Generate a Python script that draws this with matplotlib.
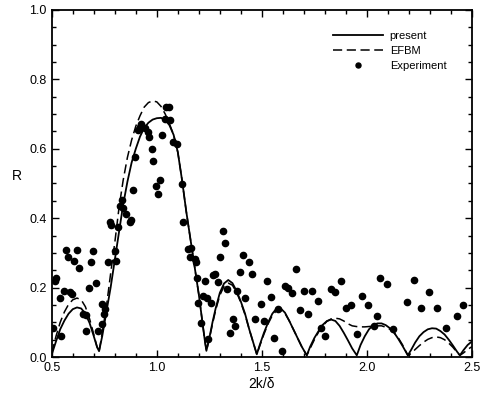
import numpy as np
import matplotlib
matplotlib.use("Agg")
import matplotlib.pyplot as plt

# ------------------ DATOS ------------------
# Curva "present" (línea continua)
present_x = [0.50, 0.52, 0.54, 0.56, 0.58, 0.60, 0.62, 0.64, 0.66, 0.68, 0.70, 0.715, 0.725,
             0.74, 0.76, 0.78, 0.80, 0.82, 0.84, 0.86, 0.88, 0.90, 0.92, 0.94, 0.96, 0.98,
             1.00, 1.02, 1.04, 1.06, 1.08, 1.10, 1.12, 1.14, 1.16, 1.18, 1.20, 1.215, 1.228,
             1.236, 1.25, 1.265, 1.28, 1.30, 1.32, 1.34, 1.36, 1.38, 1.40, 1.42, 1.44, 1.46,
             1.476, 1.49, 1.51, 1.53, 1.55, 1.57, 1.59, 1.61, 1.63, 1.65, 1.67, 1.69, 1.714,
             1.73, 1.75, 1.77, 1.79, 1.81, 1.83, 1.85, 1.87, 1.89, 1.91, 1.93, 1.952,
             1.97, 1.99, 2.01, 2.03, 2.05, 2.07, 2.09, 2.11, 2.13, 2.15, 2.17, 2.195,
             2.21, 2.23, 2.25, 2.27, 2.29, 2.31, 2.33, 2.35, 2.37, 2.39, 2.41, 2.43, 2.443,
             2.46, 2.48, 2.50]
present_y = [0.008, 0.045, 0.080, 0.105, 0.125, 0.138, 0.143, 0.140, 0.125, 0.098, 0.060, 0.030, 0.017,
             0.060, 0.130, 0.200, 0.280, 0.360, 0.440, 0.505, 0.560, 0.600, 0.635, 0.660, 0.675, 0.684,
             0.688, 0.689, 0.683, 0.668, 0.640, 0.590, 0.510, 0.420, 0.340, 0.260, 0.180, 0.110, 0.050,
             0.018, 0.055, 0.100, 0.140, 0.185, 0.212, 0.222, 0.213, 0.190, 0.160, 0.125, 0.080, 0.040,
             0.008, 0.035, 0.070, 0.100, 0.125, 0.140, 0.140, 0.128, 0.105, 0.080, 0.055, 0.030, 0.005,
             0.030, 0.055, 0.075, 0.093, 0.104, 0.108, 0.104, 0.090, 0.070, 0.048, 0.025, 0.005,
             0.035, 0.060, 0.080, 0.092, 0.097, 0.097, 0.092, 0.083, 0.070, 0.052, 0.032, 0.005,
             0.020, 0.042, 0.060, 0.072, 0.080, 0.083, 0.082, 0.075, 0.065, 0.050, 0.033, 0.015, 0.005,
             0.020, 0.035, 0.045]

# Curva "EFBM" (línea discontinua)
efbm_x = [0.50, 0.52, 0.54, 0.56, 0.58, 0.60, 0.62, 0.64, 0.66, 0.68, 0.70, 0.715, 0.725,
          0.74, 0.76, 0.78, 0.80, 0.82, 0.84, 0.86, 0.88, 0.90, 0.92, 0.94, 0.96, 0.98,
          1.00, 1.02, 1.04, 1.06, 1.08, 1.10, 1.12, 1.14, 1.16, 1.18, 1.20, 1.215, 1.228,
          1.236, 1.25, 1.265, 1.28, 1.30, 1.32, 1.34, 1.36, 1.38, 1.40, 1.42, 1.44, 1.46,
          1.476, 1.49, 1.51, 1.53, 1.55, 1.57, 1.59, 1.61, 1.63, 1.65, 1.67, 1.69, 1.714,
          1.73, 1.75, 1.77, 1.79, 1.81, 1.83, 1.85, 1.87, 1.89, 1.91, 1.93, 1.95,
          1.97, 1.99, 2.01, 2.04, 2.07, 2.09, 2.11, 2.13, 2.15, 2.17, 2.195,
          2.21, 2.23, 2.25, 2.27, 2.29, 2.31, 2.33, 2.35, 2.37, 2.39, 2.41, 2.43, 2.443,
          2.46, 2.48, 2.50]
efbm_y = [0.012, 0.060, 0.100, 0.130, 0.152, 0.165, 0.170, 0.165, 0.145, 0.110, 0.065, 0.030, 0.015,
          0.070, 0.145, 0.240, 0.330, 0.430, 0.510, 0.575, 0.625, 0.665, 0.695, 0.720, 0.733, 0.738,
          0.735, 0.722, 0.700, 0.672, 0.640, 0.590, 0.510, 0.420, 0.340, 0.260, 0.180, 0.110, 0.050,
          0.018, 0.052, 0.095, 0.135, 0.178, 0.204, 0.213, 0.207, 0.186, 0.157, 0.122, 0.080, 0.040,
          0.008, 0.032, 0.066, 0.096, 0.120, 0.134, 0.136, 0.126, 0.105, 0.080, 0.055, 0.030, 0.005,
          0.025, 0.050, 0.072, 0.090, 0.103, 0.110, 0.112, 0.110, 0.104, 0.096, 0.090, 0.088,
          0.087, 0.087, 0.088, 0.090, 0.090, 0.086, 0.080, 0.070, 0.055, 0.035, 0.005,
          0.010, 0.022, 0.033, 0.043, 0.051, 0.056, 0.058, 0.056, 0.050, 0.040, 0.028, 0.013, 0.005,
          0.012, 0.022, 0.030]

# Puntos experimentales
exp_x = [1.046, 1.056, 1.038, 1.062, 0.927, 0.919, 0.910, 0.943, 0.959, 0.962, 1.024, 1.077, 1.094,
         0.975, 0.982, 0.895, 1.014, 0.995, 1.008, 1.118, 0.887, 0.832, 0.824, 0.837, 0.852, 0.776,
         0.784, 0.871, 0.876, 0.816, 1.125, 0.800, 0.768, 0.808, 0.567, 0.578, 0.618, 0.605, 0.629,
         0.694, 0.689, 0.522, 0.514, 0.710, 0.678, 0.557, 0.589, 0.598, 0.538, 0.737, 0.752, 0.748,
         0.649, 0.662, 0.737, 0.506, 0.665, 0.721, 0.546, 1.150, 1.165, 1.158, 1.180, 1.186, 1.316,
         1.324, 1.300, 1.411, 1.440, 1.276, 1.268, 1.398, 1.451, 1.189, 1.229, 1.289, 1.221, 1.241,
         1.260, 1.336, 1.384, 1.422, 1.495, 1.197, 1.467, 1.363, 1.371, 1.348, 1.210, 1.244, 1.662,
         1.525, 1.875, 1.610, 1.625, 1.644, 1.701, 1.741, 1.827, 1.849, 1.543, 1.765, 1.975, 2.006,
         1.924, 1.903, 1.681, 1.721, 1.510, 1.578, 1.784, 1.803, 1.951, 1.557, 1.594, 2.062, 2.094,
         2.225, 2.295, 2.192, 2.260, 2.332, 2.456, 2.046, 2.430, 2.033, 2.125, 2.375]
exp_y = [0.721, 0.721, 0.687, 0.682, 0.672, 0.663, 0.653, 0.659, 0.648, 0.634, 0.639, 0.619, 0.615,
         0.600, 0.566, 0.576, 0.509, 0.494, 0.470, 0.499, 0.480, 0.451, 0.436, 0.429, 0.412, 0.388,
         0.379, 0.390, 0.395, 0.374, 0.390, 0.306, 0.273, 0.277, 0.308, 0.287, 0.308, 0.277, 0.258,
         0.306, 0.273, 0.229, 0.220, 0.212, 0.200, 0.189, 0.186, 0.183, 0.170, 0.152, 0.138, 0.124,
         0.123, 0.122, 0.094, 0.085, 0.075, 0.075, 0.062, 0.310, 0.315, 0.287, 0.282, 0.273, 0.362,
         0.329, 0.287, 0.295, 0.275, 0.239, 0.236, 0.244, 0.239, 0.229, 0.218, 0.215, 0.176, 0.170,
         0.157, 0.196, 0.189, 0.171, 0.152, 0.157, 0.109, 0.109, 0.090, 0.070, 0.099, 0.051, 0.255,
         0.220, 0.220, 0.205, 0.199, 0.184, 0.191, 0.189, 0.195, 0.188, 0.174, 0.162, 0.176, 0.150,
         0.150, 0.140, 0.135, 0.125, 0.104, 0.138, 0.085, 0.061, 0.067, 0.056, 0.017, 0.229, 0.210,
         0.222, 0.188, 0.160, 0.141, 0.140, 0.149, 0.118, 0.117, 0.090, 0.080, 0.083]

x_ticks = [0.5, 1.0, 1.5, 2.0, 2.5]
y_ticks = [0.0, 0.2, 0.4, 0.6, 0.8, 1.0]

# ------------------ GRÁFICA ------------------
plt.rcParams["font.family"] = ["Liberation Sans", "DejaVu Sans"]

fig = plt.figure(figsize=(4.84, 3.95), dpi=100)
ax = fig.add_axes([0.107, 0.096, 0.868, 0.879])

ax.plot(present_x, present_y, color="black", lw=1.3, label="present")
ax.plot(efbm_x, efbm_y, color="black", lw=1.1, ls=(0, (6, 3)), label="EFBM")
ax.plot(exp_x, exp_y, "o", color="black", ms=4.5, ls="none", label="Experiment")

ax.set_xlim(0.5, 2.5)
ax.set_ylim(0.0, 1.0)
ax.set_xticks(x_ticks)
ax.set_yticks(y_ticks)
ax.set_xticklabels([f"{t:.1f}" for t in x_ticks])
ax.set_yticklabels([f"{t:.1f}" for t in y_ticks])
ax.set_xticks(np.arange(0.5, 2.51, 0.1), minor=True)
ax.set_yticks(np.arange(0.0, 1.01, 0.05), minor=True)
ax.tick_params(which="both", direction="in", top=True, right=True, labelsize=9, width=1)
ax.tick_params(which="major", length=5)
ax.tick_params(which="minor", length=3)
for s in ax.spines.values():
    s.set_linewidth(1.3)

ax.set_xlabel("2k/δ", fontsize=10, labelpad=2)
ax.set_ylabel("R", fontsize=10, rotation=0, labelpad=9)

# Leyenda sin marco arriba a la derecha
ax.legend(loc="upper right", bbox_to_anchor=(0.963, 0.968), frameon=False, fontsize=8,
          handlelength=4.5, labelspacing=0.45, handletextpad=0.6, markerscale=0.8)

fig.savefig("out.png", dpi=100)
